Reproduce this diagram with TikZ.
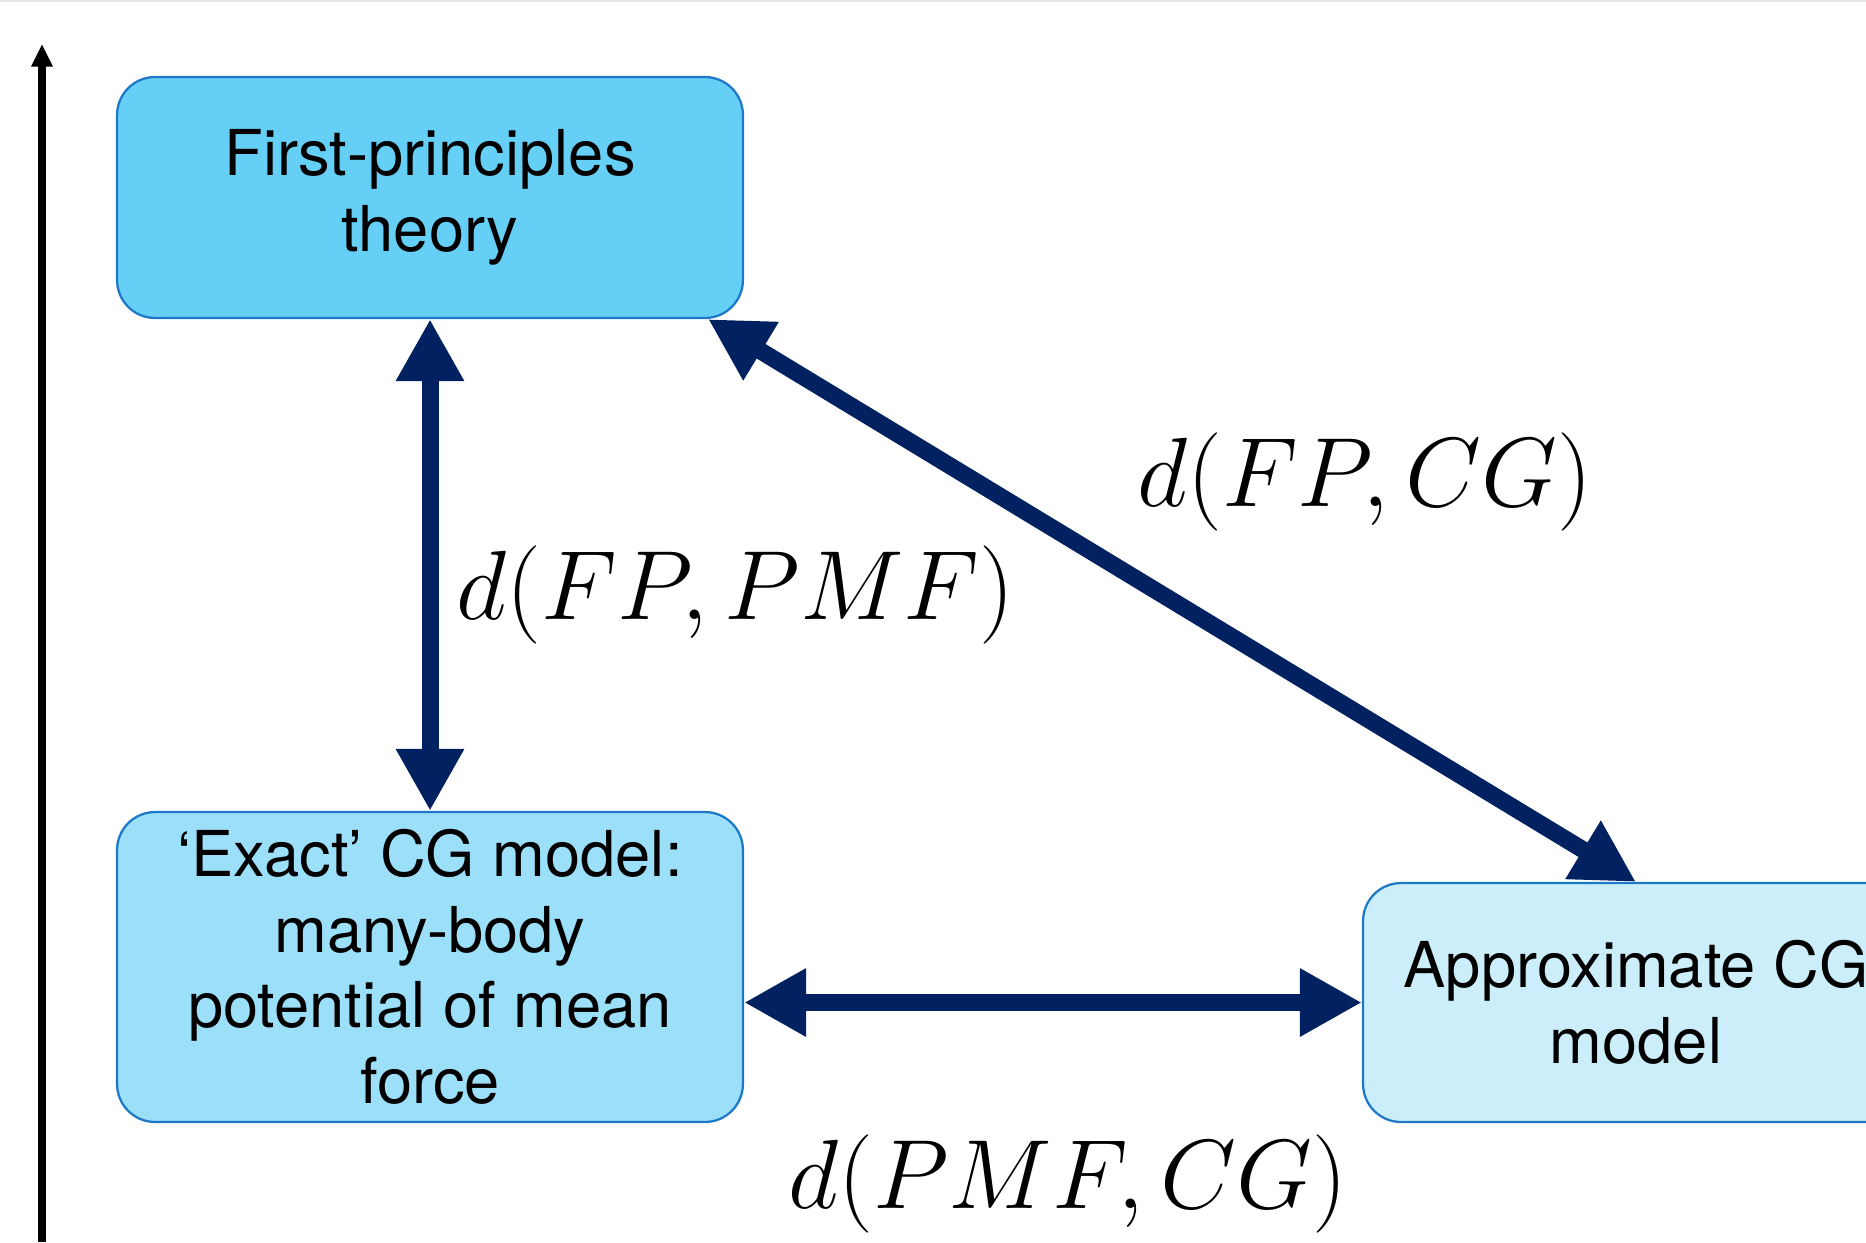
\documentclass[tikz,border=0pt]{standalone}
\usepackage{graphicx}
\usepackage{fontspec}
\newfontfamily\boxfont[Ligatures=TeX]{TeX Gyre Heros}
\usetikzlibrary{arrows.meta,positioning}
\definecolor{fpfill}{RGB}{102,207,245}
\definecolor{pmffill}{RGB}{155,223,249}
\definecolor{cgfill}{RGB}{204,238,250}
\definecolor{boxline}{RGB}{30,120,200}
\definecolor{navy}{RGB}{2,33,96}
\newcommand{\distxt}[1]{\scalebox{2.25}{\Huge$#1$}}
\begin{document}
\begin{tikzpicture}[x=0.02cm, y=-0.02cm,
    model/.style={draw=boxline, line width=0.045cm, rounded corners=0.76cm,
        align=center, minimum width=12.52cm,
        font=\boxfont\fontsize{36}{43}\selectfont},
    dist/.style={draw=navy, line width=0.34cm,
        {Triangle[length=1.24cm, width=1.28cm]}-{Triangle[length=1.24cm, width=1.28cm]}}]
    \useasboundingbox (0,0) rectangle (1866,1242);
    \draw[black!10, line width=0.04cm] (0,1) -- (1866,1);
    % Define node positions
    \node[model, fill=fpfill, minimum height=4.82cm] (fp) at (430,197.5)
        {First-principles\\theory};
    \node[model, fill=pmffill, minimum height=6.2cm] (pmf) at (430,967)
        {‘Exact’ CG model:\\many-body\\potential of mean\\force};
    \node[model, fill=cgfill, minimum width=10.92cm, minimum height=4.78cm]
        (cg) at (1636,1002.5) {Approximate CG\\model};
    \coordinate (axisbot) at (42,1242); \coordinate (axistop) at (42,44);
    % Draw arrows
    \draw[line width=0.18cm, -{Triangle[length=0.45cm, width=0.4cm]}]
        (axisbot) -- (axistop);
    \draw[dist] (fp) -- (pmf) node[pos=0.56, right, inner sep=0.36cm]
        {\distxt{d(FP,PMF)}};
    \draw[dist] ([xshift=-0.72cm]fp.south east) -- (cg.north);
    \draw[dist] (cg.west -| pmf.east) -- (cg.west);
    % Distance labels
    \node (fpcg) at (1365,482) {\distxt{d(FP,CG)}};
    \node (pmfcg) at (1068,1184) {\distxt{d(PMF,CG)}};
\end{tikzpicture}
\end{document}
